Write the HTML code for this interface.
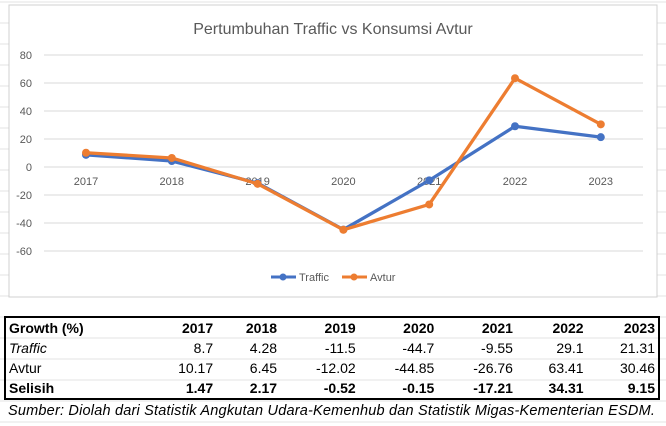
<!DOCTYPE html>
<html><head><meta charset="utf-8"><style>
body{margin:0;width:666px;height:426px;background:#fff;overflow:hidden;position:relative;font-family:"Liberation Sans",sans-serif}
svg{position:absolute;left:0;top:0}
table{position:absolute;left:4px;top:316px;width:656px;border-collapse:collapse;border:2px solid #000;font-size:14px}
td{height:20px;padding:0 3px;text-align:right;line-height:20px}
td:first-child{text-align:left}
.src{position:absolute;left:8px;top:403px;font-style:italic;font-size:14.5px;letter-spacing:0.2px}
</style></head><body>
<svg width="666" height="426">
<g id="bg" stroke="#e3e3e3"></g>
<rect x="9" y="5" width="648" height="292" fill="#fff" stroke="#d0d0d0"/>
<text x="333" y="34" text-anchor="middle" font-size="16" fill="#595959">Pertumbuhan Traffic vs Konsumsi Avtur</text>
<g id="grid"></g><g id="xl"></g><g id="series"></g>
<g font-size="11" fill="#595959">
<line x1="271" y1="277" x2="296" y2="277" stroke="#4472c4" stroke-width="3"/><circle cx="283" cy="277" r="3.5" fill="#4472c4"/>
<text x="299" y="281">Traffic</text>
<line x1="342" y1="277" x2="367" y2="277" stroke="#ed7d31" stroke-width="3"/><circle cx="354" cy="277" r="3.5" fill="#ed7d31"/>
<text x="370" y="281">Avtur</text>
</g>
</svg>
<table>
<tr style="font-weight:bold"><td>Growth (%)</td><td>2017</td><td>2018</td><td>2019</td><td>2020</td><td>2021</td><td>2022</td><td>2023</td></tr>
<tr><td style="font-style:italic">Traffic</td><td>8.7</td><td>4.28</td><td>-11.5</td><td>-44.7</td><td>-9.55</td><td>29.1</td><td>21.31</td></tr>
<tr><td>Avtur</td><td>10.17</td><td>6.45</td><td>-12.02</td><td>-44.85</td><td>-26.76</td><td>63.41</td><td>30.46</td></tr>
<tr style="font-weight:bold"><td>Selisih</td><td>1.47</td><td>2.17</td><td>-0.52</td><td>-0.15</td><td>-17.21</td><td>34.31</td><td>9.15</td></tr>
</table>
<div class="src">Sumber: Diolah dari Statistik Angkutan Udara-Kemenhub dan Statistik Migas-Kementerian ESDM.</div>
<script>
const categories=["2017","2018","2019","2020","2021","2022","2023"];
const traffic=[8.7,4.28,-11.5,-44.7,-9.55,29.1,21.31];
const avtur=[10.17,6.45,-12.02,-44.85,-26.76,63.41,30.46];
const yTicks=[80,60,40,20,0,-20,-40,-60];
const NS="http://www.w3.org/2000/svg";
const x=i=>86+i*85.8;
const y=v=>167-v*1.4;
function mk(t,a,p){const e=document.createElementNS(NS,t);for(const k in a)e.setAttribute(k,a[k]);p.appendChild(e);return e;}
const bg=document.getElementById('bg');
for(let r=0;r<21;r++){mk('line',{x1:0,x2:666,y1:r*21+2,y2:r*21+2},bg);}
const grid=document.getElementById('grid');
yTicks.forEach(v=>{
const l=mk('line',{x1:44,x2:643,y1:y(v),y2:y(v),stroke:'#d9d9d9'},grid);


const t=mk('text',{x:32,y:y(v)+4,'text-anchor':'end','font-size':11,fill:'#595959'},grid);
t.textContent=v;


});
const xl=document.getElementById('xl');
categories.forEach((c,i)=>{
const t=mk('text',{x:x(i),y:185,'text-anchor':'middle','font-size':11,fill:'#595959'},xl);
t.textContent=c;


});
const sg=document.getElementById('series');
[[traffic,'#4472c4','traffic'],[avtur,'#ed7d31','avtur']].forEach(([d,c,n])=>{
const p=mk('polyline',{points:d.map((v,i)=>x(i)+','+y(v)).join(' '),fill:'none',stroke:c,'stroke-width':3.3,'stroke-linejoin':'round'},sg);


d.forEach((v,i)=>{
const m=mk('circle',{cx:x(i),cy:y(v),r:4,fill:c},sg);


});
});
</script>
</body></html>
